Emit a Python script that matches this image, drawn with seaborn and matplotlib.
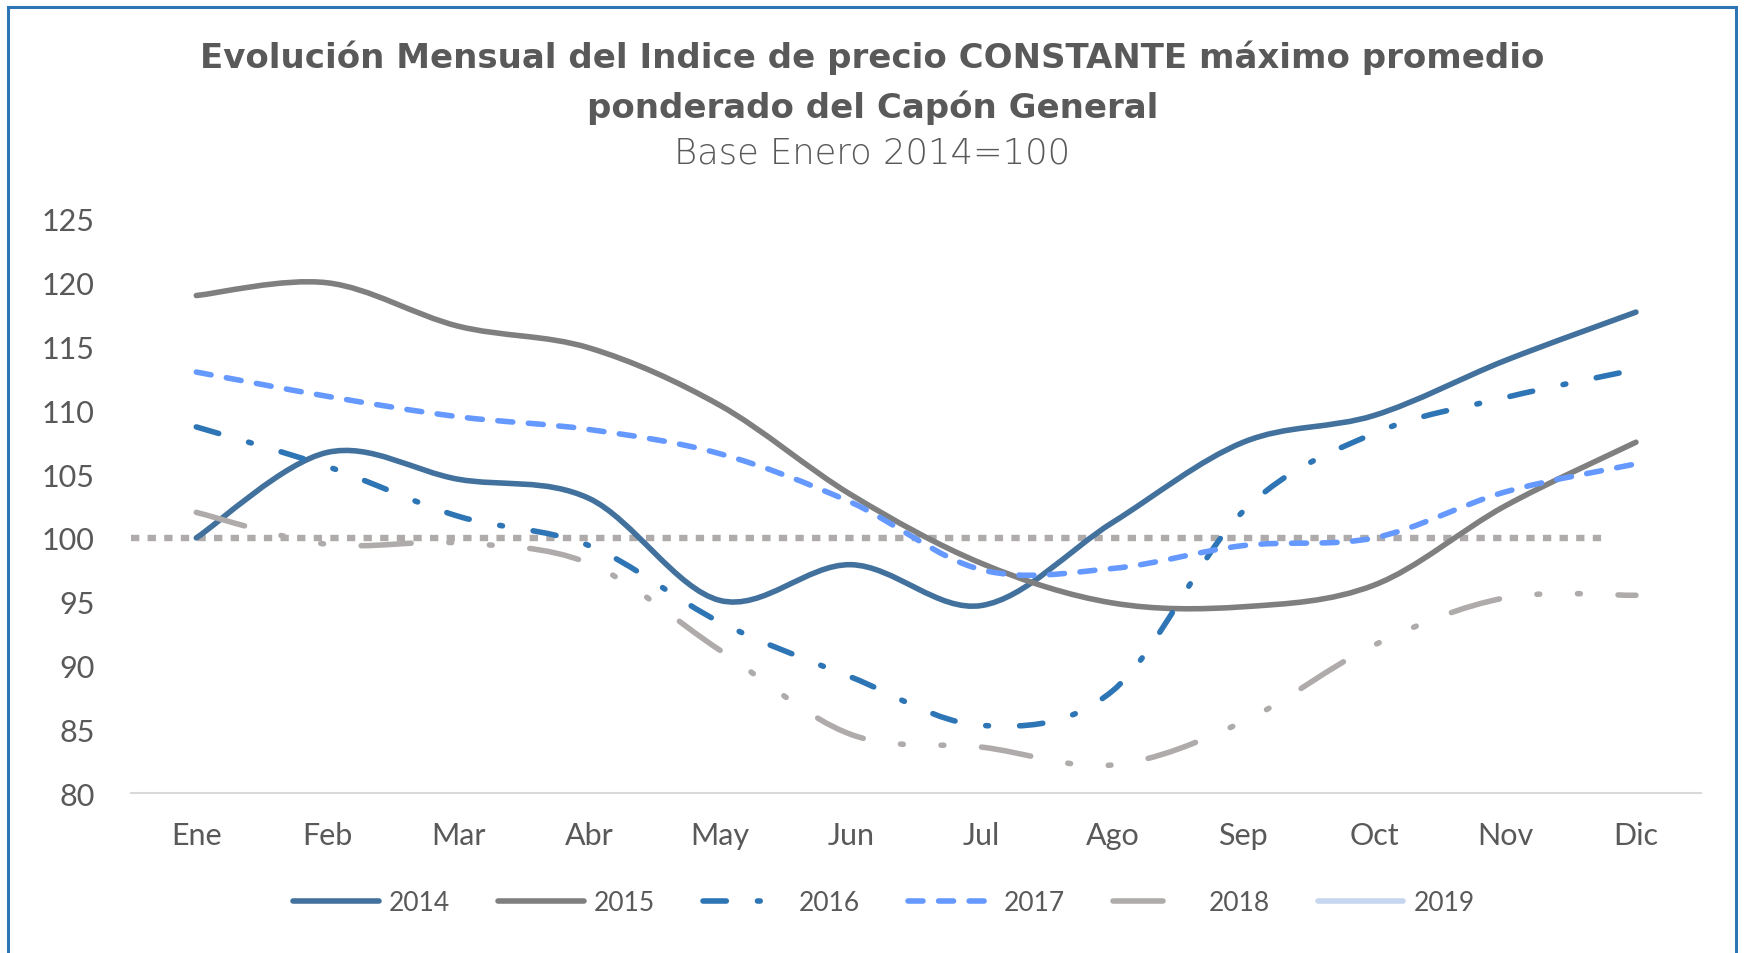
import matplotlib
matplotlib.use('Agg')
import matplotlib.pyplot as plt
from matplotlib.path import Path
from matplotlib.patches import PathPatch, Rectangle
from matplotlib.lines import Line2D
import seaborn as sns
import pandas as pd
import numpy as np

# data
MESES = ['Ene', 'Feb', 'Mar', 'Abr', 'May', 'Jun',
         'Jul', 'Ago', 'Sep', 'Oct', 'Nov', 'Dic']
Y2014 = [100.0, 106.7, 104.6, 103.1, 95.1, 97.9, 94.7, 101.2, 107.5, 109.6, 113.9, 117.7]
Y2015 = [119.0, 120.0, 116.6, 114.9, 110.4, 103.4, 98.0, 94.9, 94.6, 96.3, 102.5, 107.5]
Y2016 = [108.7, 105.6, 101.7, 99.4, 93.4, 89.1, 85.3, 88.0, 102.1, 108.2, 111.0, 113.2]
Y2017 = [113.0, 111.1, 109.5, 108.5, 106.6, 102.8, 97.5, 97.6, 99.4, 100.0, 103.6, 105.8]
Y2018 = [102.0, 99.5, 99.6, 98.0, 91.2, 84.6, 83.6, 82.2, 85.6, 91.6, 95.3, 95.5]
ANIOS = ['2014', '2015', '2016', '2017', '2018', '2019']
BASE = 100

COLORES = {'2014': '#41719C', '2015': '#7F7F7F', '2016': '#2E75B6',
           '2017': '#6699FF', '2018': '#AFABAB', '2019': '#C5D6EE'}
LW = 4.0
DASHES = {'2014': None, '2015': None,
          '2016': (0, (4.2, 5.6, 0.5, 5.6)),
          '2017': (0, (2.7, 2.8)),
          '2018': (0, (9, 6.8, 0.5, 6.8, 0.5, 6.8)),
          '2019': None}

df = pd.concat([
    pd.DataFrame({'mes': MESES, 'indice': vals, 'anio': anio})
    for anio, vals in zip(ANIOS[:5], [Y2014, Y2015, Y2016, Y2017, Y2018])
])

sns.set_style('white')
plt.rcParams['font.family'] = ['Lato', 'DejaVu Sans']
TXT = '#595959'

fig = plt.figure(figsize=(17.45, 9.54), dpi=100)
ax = fig.add_axes([0.075, 0.1677, 0.900, 0.6017])

sns.lineplot(data=df, x='mes', y='indice', hue='anio', palette=COLORES,
             hue_order=ANIOS[:5], sort=False, legend=False, ax=ax)
sns_lines = list(ax.lines)


def smooth_path(xy):
    # excel-like smoothed line: cubic bezier through every point
    pts = np.asarray(xy, dtype=float)
    n = len(pts)
    verts = [pts[0]]
    codes = [Path.MOVETO]
    for i in range(n - 1):
        p0 = pts[i - 1] if i > 0 else pts[i]
        p3 = pts[i + 2] if i + 2 < n else pts[i + 1]
        c1 = pts[i] + (pts[i + 1] - p0) / 6.0
        c2 = pts[i + 1] - (p3 - pts[i]) / 6.0
        verts += [c1, c2, pts[i + 1]]
        codes += [Path.CURVE4] * 3
    return Path(verts, codes)


# replace straight seaborn lines by smoothed curves
for line, anio in zip(sns_lines, ANIOS[:5]):
    xy = line.get_xydata()
    line.remove()
    patch = PathPatch(smooth_path(xy), facecolor='none',
                      edgecolor=COLORES[anio], lw=LW, zorder=3)
    if DASHES[anio] is not None:
        patch.set_linestyle(DASHES[anio])
    patch.set_capstyle('round')
    patch.set_joinstyle('round')
    ax.add_patch(patch)

# reference line at base 100
ax.axhline(BASE, xmin=0.0, xmax=0.9376, color='#AFABAB', lw=4.6,
           linestyle=(0, (1.3, 1.3)), dash_capstyle='butt', zorder=2)

ax.set_xlim(-0.5, 11.5)
ax.set_ylim(80, 125)
ax.set_yticks(range(80, 126, 5))
ax.set_xlabel('')
ax.set_ylabel('')
for s in ['top', 'right', 'left']:
    ax.spines[s].set_visible(False)
ax.spines['bottom'].set_color('#D9D9D9')
ax.spines['bottom'].set_linewidth(1.5)
ax.tick_params(axis='y', length=0, pad=26, labelsize=22, labelcolor=TXT)
ax.tick_params(axis='x', length=0, pad=20, labelsize=22, labelcolor=TXT)

# titles
fig.text(0.5, 1 - 58 / 954, 'Evolución Mensual del Indice de precio CONSTANTE máximo promedio',
         ha='center', va='center', fontsize=24.5, fontweight='bold', color=TXT,
         family='DejaVu Sans')
fig.text(0.5, 1 - 108 / 954, 'ponderado del Capón General',
         ha='center', va='center', fontsize=24.5, fontweight='bold', color=TXT,
         family='DejaVu Sans')
fig.text(0.5, 1 - 154 / 954, 'Base Enero 2014=100',
         ha='center', va='center', fontsize=25.5, fontweight='light', color=TXT,
         family='DejaVu Sans')

# legend
handles = []
for anio in ANIOS:
    h = Line2D([], [], color=COLORES[anio], lw=LW,
               solid_capstyle='round', dash_capstyle='round')
    if DASHES[anio] is not None:
        h.set_linestyle(DASHES[anio])
    handles.append(h)
leg = fig.legend(handles, ANIOS, loc='center', ncol=6,
                 bbox_to_anchor=(884 / 1745, 1 - 904 / 954), frameon=False,
                 fontsize=19, handlelength=3.25, handletextpad=0.4,
                 columnspacing=1.8)
for t in leg.get_texts():
    t.set_color(TXT)

# blue chart frame
fig.patches.append(Rectangle((8 / 1745, -0.05), (1736 - 8) / 1745, 1.05 - 8 / 954,
                             transform=fig.transFigure, fill=False,
                             edgecolor='#2E75B6', lw=2.2))

plt.savefig('out.png', dpi=100)
